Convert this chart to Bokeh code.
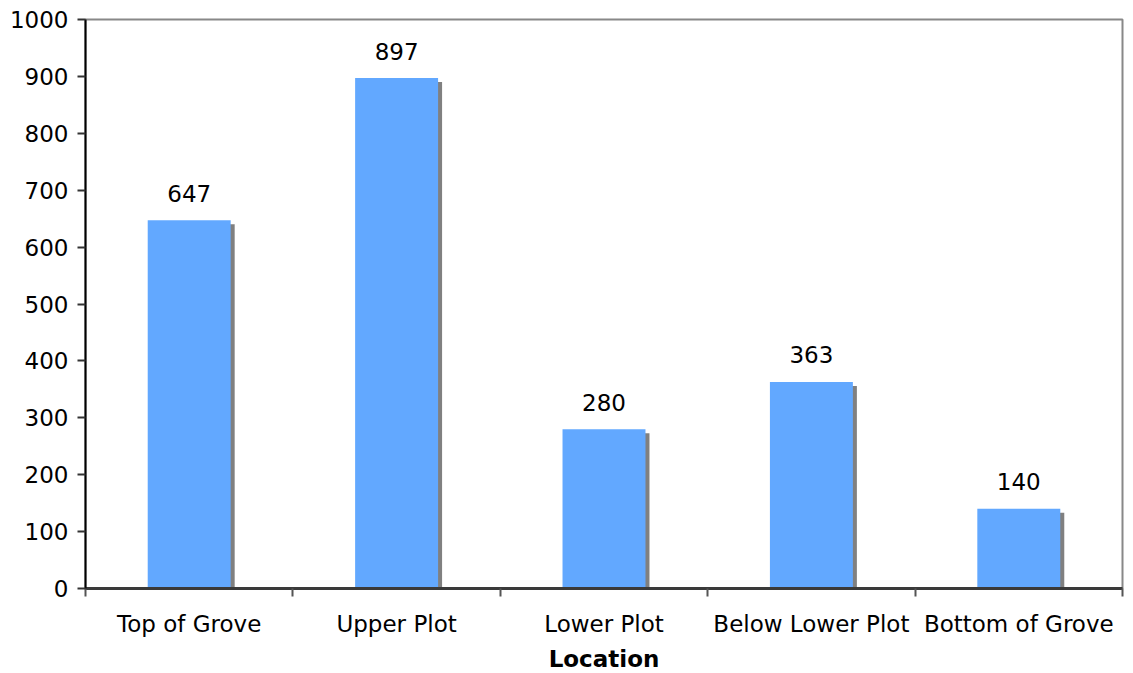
from bokeh.plotting import figure
from bokeh.models import FixedTicker, Range1d, ColumnDataSource
from bokeh.embed import file_html
from bokeh.resources import INLINE

# Counts per location
locations = ["Top of Grove", "Upper Plot", "Lower Plot", "Below Lower Plot", "Bottom of Grove"]
counts = [647, 897, 280, 363, 140]
y_ticks = [0, 100, 200, 300, 400, 500, 600, 700, 800, 900, 1000]

FONT = "DejaVu Sans"
FS = "23px"
BAR_W = 0.4
centers = [i + 0.5 for i in range(len(locations))]

p = figure(frame_width=1037, frame_height=569, output_backend="svg", toolbar_location=None,
           x_range=Range1d(0, len(locations)), y_range=Range1d(0, 1000),
           min_border_left=85, min_border_right=11, min_border_top=19, min_border_bottom=0)

p.background_fill_color = "white"
p.border_fill_color = "white"
p.outline_line_color = "#888888"
p.outline_line_width = 2
p.grid.visible = False

# drop shadow sits a few pixels right of and below each bar
px_x = len(locations) / 1037.0
px_y = 1000 / 569.0
shadow = ColumnDataSource(dict(x=[c + 4 * px_x for c in centers],
                               top=[v - 4 * px_y for v in counts]))
p.vbar(x="x", top="top", bottom=0, width=BAR_W, source=shadow,
       fill_color="#808080", line_color=None)

src = ColumnDataSource(dict(x=centers, top=counts, lbl=[str(v) for v in counts]))
p.vbar(x="x", top="top", bottom=0, width=BAR_W, source=src,
       fill_color="#62A8FF", line_color=None)

p.text(x="x", y="top", text="lbl", source=src, text_align="center",
       text_baseline="alphabetic", y_offset=-27, text_font_size=FS,
       text_font={"value": FONT}, text_color="black")

# y axis
p.yaxis.ticker = FixedTicker(ticks=y_ticks)
p.yaxis.axis_line_color = "black"
p.yaxis.axis_line_width = 2
p.yaxis.major_tick_out = 8
p.yaxis.major_tick_in = 0
p.yaxis.major_tick_line_color = "#333333"
p.yaxis.major_tick_line_width = 2
p.yaxis.minor_tick_line_color = None
p.yaxis.major_label_text_font = FONT
p.yaxis.major_label_text_font_size = FS
p.yaxis.major_label_text_color = "black"
p.yaxis.major_label_standoff = 9

# x axis: category names centred, ticks between categories
p.xaxis.ticker = FixedTicker(ticks=centers, minor_ticks=list(range(len(locations) + 1)))
p.xaxis.major_label_overrides = {c: n for c, n in zip(centers, locations)}
p.xaxis.major_tick_line_color = None
p.xaxis.major_tick_out = 0
p.xaxis.major_tick_in = 0
p.xaxis.minor_tick_out = 8
p.xaxis.minor_tick_in = 0
p.xaxis.minor_tick_line_color = "#555555"
p.xaxis.minor_tick_line_width = 2
p.xaxis.axis_line_color = "#3a3a3a"
p.xaxis.axis_line_width = 3
p.xaxis.major_label_text_font = FONT
p.xaxis.major_label_text_font_size = FS
p.xaxis.major_label_text_color = "black"
p.xaxis.major_label_standoff = 14
p.xaxis.axis_label = "Location"
p.xaxis.axis_label_text_font = FONT
p.xaxis.axis_label_text_font_size = FS
p.xaxis.axis_label_text_font_style = "bold"
p.xaxis.axis_label_text_color = "black"
p.xaxis.axis_label_standoff = 6

open("out.html", "w").write(file_html(p, INLINE))
